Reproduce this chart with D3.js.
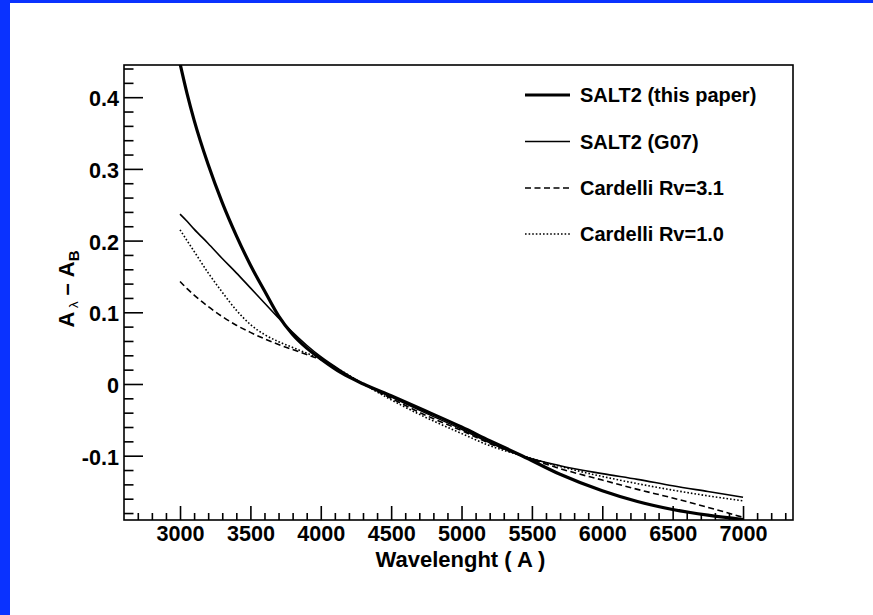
<!DOCTYPE html>
<html><head><meta charset="utf-8">
<script src="https://cdn.jsdelivr.net/npm/d3@7"></script>
<style>
body{margin:0;background:#fff}
svg{display:block}
text{font-family:"Liberation Sans",Arial,Helvetica,sans-serif;font-weight:bold;fill:#000}
</style>
</head><body>
<svg id="chart" width="873" height="615"></svg>
<script>
// ---------------- data ----------------
const wavelengths = [3000,3050,3100,3200,3300,3400,3500,3600,3700,3800,3900,4000,4150,4303,4500,4750,5000,5200,5429,5700,6000,6250,6500,6750,7000];
const salt2ThisPaper = [0.447,0.405,0.368,0.306,0.253,0.207,0.166,0.130,0.095,0.069,0.050,0.035,0.015,0.000,-0.0165,-0.038,-0.060,-0.079,-0.100,-0.126,-0.149,-0.164,-0.175,-0.183,-0.189];
const salt2G07       = [0.237,0.227,0.216,0.196,0.175,0.155,0.134,0.113,0.092,0.072,0.054,0.038,0.018,0.000,-0.018,-0.041,-0.063,-0.082,-0.100,-0.114,-0.125,-0.133,-0.142,-0.150,-0.158];
const cardelliRv31   = [0.143,0.133,0.124,0.108,0.094,0.082,0.072,0.063,0.055,0.048,0.041,0.034,0.017,0.000,-0.020,-0.044,-0.065,-0.083,-0.100,-0.118,-0.134,-0.147,-0.159,-0.172,-0.186];
const cardelliRv10   = [0.215,0.200,0.185,0.155,0.128,0.103,0.083,0.069,0.059,0.051,0.043,0.035,0.018,0.000,-0.022,-0.047,-0.069,-0.086,-0.100,-0.115,-0.129,-0.139,-0.148,-0.156,-0.163];
const seriesNames = ["SALT2 (this paper)","SALT2 (G07)","Cardelli Rv=3.1","Cardelli Rv=1.0"];
const xTickValues = [3000,3500,4000,4500,5000,5500,6000,6500,7000];
const yTickValues = [-0.1,0,0.1,0.2,0.3,0.4];
const yTickLabels = ["-0.1","0","0.1","0.2","0.3","0.4"];
const xTitle = "Wavelenght ( A )";

// ---------------- layout ----------------
const W = 873, H = 615;
const frame = {left:124, right:793, top:65, bottom:520};
const svg = d3.select("#chart");
svg.append("rect").attr("width",W).attr("height",H).attr("fill","#fff");
// blue border strips
svg.append("rect").attr("x",0).attr("y",0).attr("width",W).attr("height",3).attr("fill","#0a32ff");
svg.append("rect").attr("x",0).attr("y",0).attr("width",10).attr("height",H).attr("fill","#0a32ff");

const x = d3.scaleLinear().domain([2602,7355]).range([frame.left,frame.right]);
const y = d3.scaleLinear().domain([-0.1897,0.4449]).range([frame.bottom,frame.top]);

// clip
svg.append("clipPath").attr("id","plotclip").append("rect")
  .attr("x",frame.left).attr("y",frame.top)
  .attr("width",frame.right-frame.left).attr("height",frame.bottom-frame.top);

// ---------------- axes ----------------
const fs = 21.6;
const xMinor = d3.range(2700,7400,100).filter(v=>!xTickValues.includes(v));
const yMinor = d3.range(-0.18,0.445,0.02).map(v=>Math.round(v*100)/100).filter(v=>!yTickValues.some(t=>Math.abs(t-v)<1e-9));

const gx = svg.append("g").attr("transform",`translate(0,${frame.bottom})`)
  .call(d3.axisBottom(x).tickValues(xTickValues).tickSizeInner(-14).tickSizeOuter(0).tickPadding(6).tickFormat(d3.format("d")));
const gxm = svg.append("g").attr("transform",`translate(0,${frame.bottom})`)
  .call(d3.axisBottom(x).tickValues(xMinor).tickSizeInner(-7).tickSizeOuter(0).tickFormat(""));
const gy = svg.append("g").attr("transform",`translate(${frame.left},0)`)
  .call(d3.axisLeft(y).tickValues(yTickValues).tickSizeInner(-19).tickSizeOuter(0).tickPadding(5)
        .tickFormat((d,i)=>yTickLabels[i]));
const gym = svg.append("g").attr("transform",`translate(${frame.left},0)`)
  .call(d3.axisLeft(y).tickValues(yMinor).tickSizeInner(-9.5).tickSizeOuter(0).tickFormat(""));

[gx,gxm,gy,gym].forEach(g=>{
  g.select(".domain").remove();
  g.selectAll(".tick line").attr("stroke","#000").attr("stroke-width",1.6);
  g.selectAll("text").attr("font-size",fs).attr("font-family",null).attr("fill","#000");
});
gy.selectAll("text").attr("dy","0.4em");

// frame
svg.append("rect").attr("x",frame.left).attr("y",frame.top)
  .attr("width",frame.right-frame.left).attr("height",frame.bottom-frame.top)
  .attr("fill","none").attr("stroke","#000").attr("stroke-width",1.6);

// axis titles
svg.append("text").attr("x",(frame.left+frame.right)/2+2).attr("y",567)
  .attr("text-anchor","middle").attr("font-size",22).text(xTitle);

const yt = svg.append("text").attr("transform","translate(74,289) rotate(-90)")
  .attr("text-anchor","middle").attr("font-size",22);
yt.append("tspan").text("A");
yt.append("tspan").attr("font-size",13).attr("font-weight","normal").attr("dy",4).text(" \u03bb");
yt.append("tspan").attr("dy",-4).text(" \u2013 A");
yt.append("tspan").attr("font-size",15).attr("dy",5).text("B");

// ---------------- curves ----------------
const styles = [
  {data:salt2ThisPaper, w:3.2, dash:null},
  {data:salt2G07,       w:1.6, dash:null},
  {data:cardelliRv31,   w:1.6, dash:"6,3.5"},
  {data:cardelliRv10,   w:1.6, dash:"1.6,2"}
];
const line = d3.line().x(d=>x(d[0])).y(d=>y(d[1])).curve(d3.curveMonotoneX);
const gc = svg.append("g").attr("clip-path","url(#plotclip)");
styles.forEach(s=>{
  gc.append("path").datum(wavelengths.map((w,i)=>[w,s.data[i]]))
    .attr("d",line).attr("fill","none").attr("stroke","#000")
    .attr("stroke-width",s.w).attr("stroke-dasharray",s.dash);
});

// ---------------- legend ----------------
const legY = [95,141.5,188,234];
styles.forEach((s,i)=>{
  svg.append("line").attr("x1",525).attr("x2",570).attr("y1",legY[i]).attr("y2",legY[i])
    .attr("stroke","#000").attr("stroke-width",s.w).attr("stroke-dasharray",s.dash);
  svg.append("text").attr("x",580).attr("y",legY[i]).attr("dy","0.36em")
    .attr("font-size",20).text(seriesNames[i]);
});
</script>
</body></html>
